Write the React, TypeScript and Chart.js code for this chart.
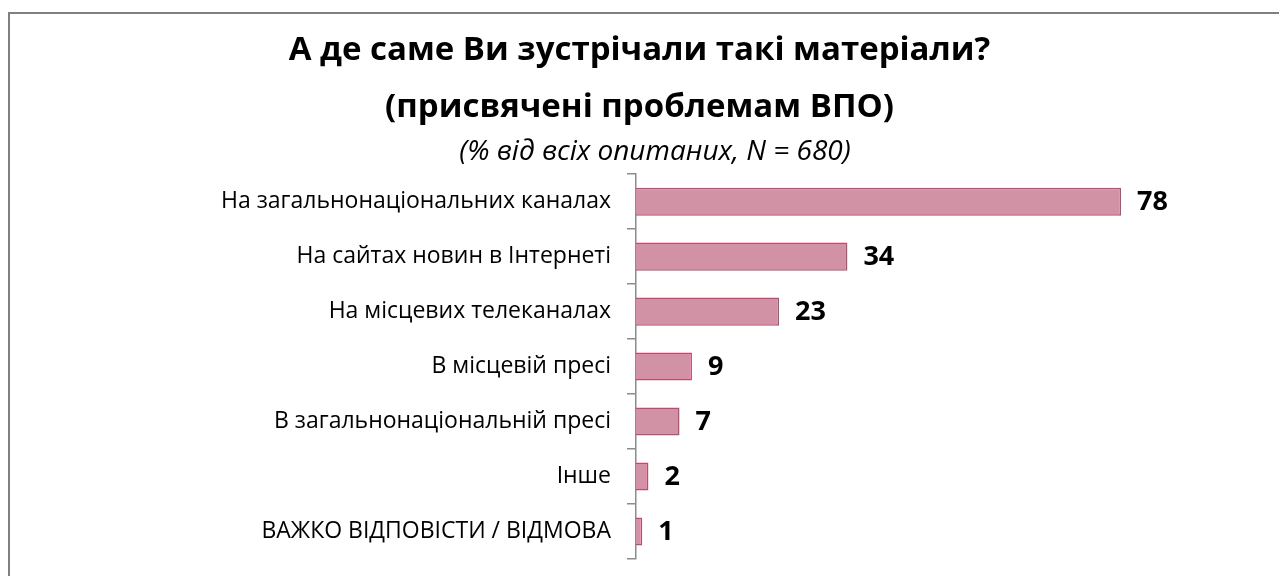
import React, { useEffect, useRef } from "react";
import { Chart, registerables } from "chart.js";

Chart.register(...registerables);

const categories: string[] = [
  "На загальнонаціональних каналах",
  "На сайтах новин в Інтернеті",
  "На місцевих телеканалах",
  "В місцевій пресі",
  "В загальнонаціональній пресі",
  "Інше",
  "ВАЖКО ВІДПОВІСТИ / ВІДМОВА",
];
const values: number[] = [78, 34, 23, 9, 7, 2, 1];
const titleLines: string[] = ["А де саме Ви зустрічали такі матеріали?", "(присвячені проблемам ВПО)"];
const subtitleText = "(% від всіх опитаних, N = 680)";

const FONT = "'Open Sans', 'Noto Sans', sans-serif";

const valueLabels = {
  id: "valueLabels",
  afterDatasetsDraw(chart: any) {
    const ctx = chart.ctx;
    const meta = chart.getDatasetMeta(0);
    ctx.save();
    ctx.font = `bold 27px ${FONT}`;
    ctx.fillStyle = "#000";
    ctx.textAlign = "left";
    ctx.textBaseline = "middle";
    meta.data.forEach((bar: any, i: number) => {
      ctx.fillText(String(values[i]), bar.x + 16, bar.y + 1);
    });
    ctx.restore();
  },
};

const subtitleDraw = {
  id: "subtitleDraw",
  afterDraw(chart: any) {
    const ctx = chart.ctx;
    ctx.save();
    ctx.font = `italic 28px ${FONT}`;
    ctx.fillStyle = "#000";
    ctx.textAlign = "center";
    ctx.textBaseline = "middle";
    ctx.fillText(subtitleText, 655, 152);
    ctx.restore();
  },
};

export default function App() {
  const ref = useRef<HTMLCanvasElement | null>(null);
  useEffect(() => {
    document.body.style.overflow = "hidden";
    const chart = new Chart(ref.current!, {
      type: "bar",
      data: {
        labels: categories,
        datasets: [
          {
            data: values,
            backgroundColor: "rgb(209,146,166)",
            borderColor: "rgb(190,75,110)",
            borderWidth: 1.5,
            barPercentage: 0.51,
            categoryPercentage: 1,
          },
        ],
      },
      options: {
        indexAxis: "y",
        animation: false,
        responsive: false,
        maintainAspectRatio: false,
        layout: { padding: { left: 0, right: 0, top: 0, bottom: 17 } },
        plugins: {
          legend: { display: false },
          tooltip: { enabled: false },
          title: {
            display: true,
            text: titleLines,
            color: "#000",
            font: { family: FONT, size: 33, weight: "bold", lineHeight: 1.73 },
            padding: { top: 22, bottom: 38 },
          },
        },
        scales: {
          x: { display: false, min: 0, max: 103.4 },
          y: {
            afterFit(scale: any) {
              scale.width = 636;
              scale.paddingTop = 0;
              scale.paddingBottom = 0;
            },
            grid: {
              drawOnChartArea: false,
              drawTicks: true,
              tickLength: 9,
              color: "#8c8c8c",
              lineWidth: 1.5,
              offset: true,
            },
            border: { display: true, color: "#8c8c8c", width: 1.5 },
            ticks: {
              color: "#000",
              font: { family: FONT, size: 23 },
              padding: 16,
              autoSkip: false,
            },
          },
        },
      },
      plugins: [valueLabels, subtitleDraw],
    });
    return () => chart.destroy();
  }, []);

  return (
    <div style={{ position: "fixed", left: 0, top: 0, width: 1279, height: 576, overflow: "hidden", background: "#fff" }}>
      <div
        style={{
          position: "absolute",
          left: 8,
          top: 12,
          width: 1300,
          height: 600,
          border: "2px solid #808080",
          boxSizing: "border-box",
        }}
      />
      <canvas ref={ref} width={1279} height={576} style={{ position: "absolute", left: 0, top: 0, width: 1279, height: 576 }} />
    </div>
  );
}
